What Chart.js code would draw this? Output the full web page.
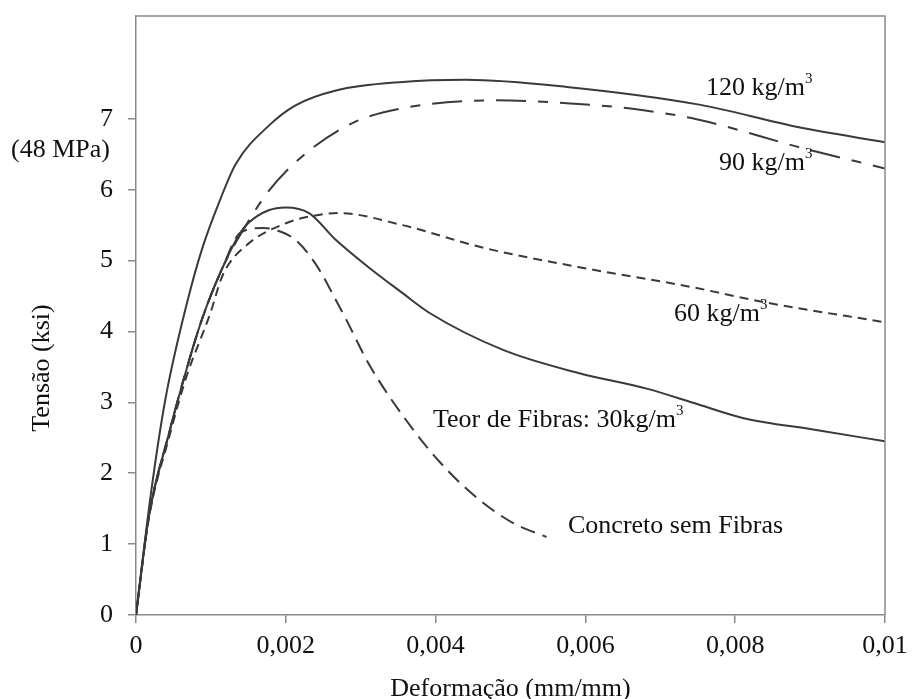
<!DOCTYPE html>
<html>
<head>
<meta charset="utf-8">
<script src="https://cdn.jsdelivr.net/npm/chart.js@4.4.0/dist/chart.umd.min.js"></script>
<style>
  html, body { margin: 0; padding: 0; background: #fff; }
  #wrap { width: 917px; height: 699px; }
</style>
</head>
<body>
<div id="wrap"><canvas id="stressChart" width="917" height="699"></canvas></div>
<script>
// tick values and labels
const xTickValues = [0, 0.002, 0.004, 0.006, 0.008, 0.01];
const xTickLabels = ['0', '0,002', '0,004', '0,006', '0,008', '0,01'];
const yTickValues = [0, 1, 2, 3, 4, 5, 6, 7];
const yTickLabels = ['0', '1', '2', '3', '4', '5', '6', '7'];

// curves (strain mm/mm, stress ksi)
const strain120 = [0, 0.0002, 0.00039, 0.00069, 0.00089, 0.00112, 0.00133, 0.00177, 0.00213, 0.00267, 0.00356, 0.0044, 0.00575, 0.00752, 0.00885, 0.01];
const stress120 = [0, 1.72, 3.03, 4.44, 5.19, 5.85, 6.36, 6.9, 7.19, 7.40, 7.52, 7.55, 7.45, 7.2, 6.88, 6.67];

const strain90 = [0, 0.00017, 0.00044, 0.00067, 0.00089, 0.00116, 0.00147, 0.00177, 0.00223, 0.00289, 0.00356, 0.0048, 0.00575, 0.00663, 0.0075, 0.00885, 0.01];
const stress90 = [0, 1.38, 2.56, 3.45, 4.2, 4.91, 5.5, 5.98, 6.48, 6.94, 7.15, 7.26, 7.22, 7.14, 6.99, 6.6, 6.3];

const strain60 = [0, 0.00017, 0.00044, 0.00067, 0.00099, 0.00116, 0.00148, 0.00201, 0.00231, 0.0027, 0.00356, 0.0046, 0.0059, 0.0074, 0.0084, 0.01];
const stress60 = [0, 1.35, 2.5, 3.35, 4.25, 4.8, 5.22, 5.53, 5.62, 5.67, 5.50, 5.19, 4.91, 4.63, 4.41, 4.13];

const strain30 = [0, 0.00017, 0.00044, 0.00067, 0.00089, 0.00116, 0.00139, 0.0015, 0.00177, 0.002, 0.00231, 0.00267, 0.0031, 0.00356, 0.00392, 0.0049, 0.00592, 0.00683, 0.00745, 0.0081, 0.00908, 0.01];
const stress30 = [0, 1.38, 2.56, 3.45, 4.2, 4.91, 5.39, 5.53, 5.71, 5.75, 5.67, 5.29, 4.91, 4.54, 4.26, 3.74, 3.41, 3.19, 2.99, 2.78, 2.61, 2.45];

const strain0 = [0, 0.00017, 0.00044, 0.00067, 0.00089, 0.00116, 0.00139, 0.0017, 0.00187, 0.00213, 0.0024, 0.00267, 0.00281, 0.00312, 0.00369, 0.00415, 0.00459, 0.00503, 0.00548];
const stress0 = [0, 1.38, 2.56, 3.45, 4.2, 4.91, 5.39, 5.46, 5.43, 5.29, 4.95, 4.44, 4.16, 3.52, 2.63, 2.05, 1.62, 1.30, 1.10];

const toPoints = (xs, ys) => xs.map((x, i) => ({ x: x, y: ys[i] }));

const serif = "'Liberation Serif', 'Times New Roman', serif";
const lineColor = '#3a3a3a';
const axisColor = '#8a8a8a';

function curve(xs, ys, dash) {
  return {
    data: toPoints(xs, ys),
    borderColor: lineColor,
    borderWidth: 2,
    borderDash: dash,
    pointRadius: 0,
    fill: false,
    cubicInterpolationMode: 'monotone'
  };
}

// labels written on the chart (text, superscript, x, baseline)
const notes = [
  { text: '120 kg/m', sup: '3', x: 706, y: 95 },
  { text: '90 kg/m', sup: '3', x: 719, y: 170 },
  { text: '60 kg/m', sup: '3', x: 674, y: 321 },
  { text: 'Teor de Fibras: 30kg/m', sup: '3', x: 433, y: 427 },
  { text: 'Concreto sem Fibras', sup: '', x: 568, y: 533 },
  { text: '(48 MPa)', sup: '', x: 11, y: 157 }
];

const extras = {
  id: 'extras',
  afterDraw(chart) {
    const ctx = chart.ctx;
    const a = chart.chartArea;
    ctx.save();
    // top and right frame lines
    ctx.strokeStyle = axisColor;
    ctx.lineWidth = 1.5;
    ctx.beginPath();
    ctx.moveTo(a.left, a.top);
    ctx.lineTo(a.right, a.top);
    ctx.lineTo(a.right, a.bottom);
    ctx.stroke();

    ctx.fillStyle = '#111';
    ctx.textBaseline = 'alphabetic';
    ctx.textAlign = 'left';
    notes.forEach(n => {
      ctx.font = '26px ' + serif;
      ctx.fillText(n.text, n.x, n.y);
      if (n.sup) {
        const w = ctx.measureText(n.text).width;
        ctx.font = '15px ' + serif;
        ctx.fillText(n.sup, n.x + w, n.y - 12);
      }
    });

    // y axis title
    ctx.font = '26px ' + serif;
    ctx.textAlign = 'center';
    ctx.textBaseline = 'middle';
    ctx.translate(42, 368);
    ctx.rotate(-Math.PI / 2);
    ctx.fillText('Tensão (ksi)', 0, 0);
    ctx.restore();
  }
};

new Chart(document.getElementById('stressChart').getContext('2d'), {
  type: 'line',
  data: {
    datasets: [
      curve(strain120, stress120, []),
      curve(strain90, stress90, [30, 12, 10, 12]),
      curve(strain60, stress60, [9, 6]),
      curve(strain30, stress30, []),
      curve(strain0, stress0, [15, 8])
    ]
  },
  options: {
    responsive: false,
    animation: false,
    devicePixelRatio: 1,
    layout: { padding: { left: 0, top: 16, right: 32, bottom: 0 } },
    plugins: {
      legend: { display: false },
      tooltip: { enabled: false }
    },
    scales: {
      x: {
        type: 'linear',
        min: 0,
        max: 0.01,
        afterFit: s => { s.height = 84; s.paddingLeft = 0; s.paddingRight = 0; },
        afterBuildTicks: s => { s.ticks = xTickValues.map(v => ({ value: v })); },
        ticks: {
          autoSkip: false,
          maxRotation: 0,
          padding: 8,
          color: '#111',
          font: { family: serif, size: 26 },
          callback: (v, i) => xTickLabels[i]
        },
        grid: { drawOnChartArea: false, drawTicks: true, tickLength: 8, color: axisColor, lineWidth: 1.5 },
        border: { display: true, color: axisColor, width: 1.5 },
        title: {
          display: true,
          text: 'Deformação (mm/mm)',
          color: '#111',
          font: { family: serif, size: 26, lineHeight: 1.0 },
          padding: { top: 0, bottom: -3 }
        }
      },
      y: {
        type: 'linear',
        min: 0,
        max: 8.45,
        afterFit: s => { s.width = 136; s.paddingTop = 0; s.paddingBottom = 0; },
        afterBuildTicks: s => { s.ticks = yTickValues.map(v => ({ value: v })); },
        ticks: {
          autoSkip: false,
          padding: 15,
          color: '#111',
          font: { family: serif, size: 26 },
          callback: (v, i) => yTickLabels[i]
        },
        grid: { drawOnChartArea: false, drawTicks: true, tickLength: 8, color: axisColor, lineWidth: 1.5 },
        border: { display: true, color: axisColor, width: 1.5 }
      }
    }
  },
  plugins: [extras]
});
</script>
</body>
</html>
